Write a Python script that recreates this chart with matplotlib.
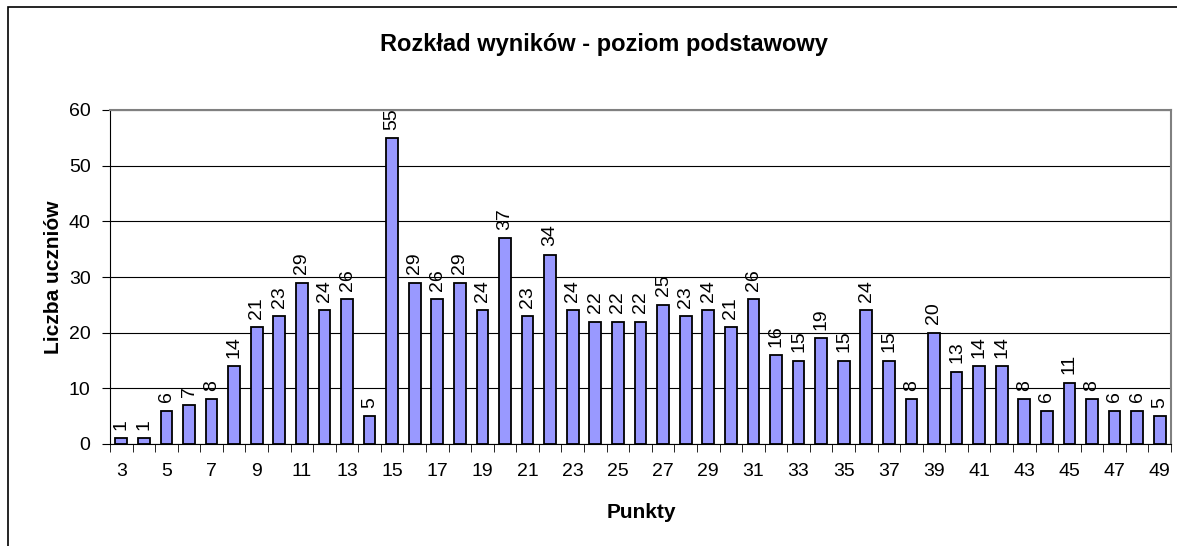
import numpy as np
import matplotlib.pyplot as plt
from matplotlib.patches import Rectangle

plt.rcParams['font.family'] = ['Liberation Sans', 'DejaVu Sans']

punkty = list(range(3, 50))
liczba = [1, 1, 6, 7, 8, 14, 21, 23, 29, 24, 26, 5, 55, 29, 26, 29, 24, 37, 23, 34,
          24, 22, 22, 22, 25, 23, 24, 21, 26, 16, 15, 19, 15, 24, 15, 8, 20, 13, 14,
          14, 8, 6, 11, 8, 6, 6, 5]
tick_labels = [str(p) for p in punkty[::2]]

W, H = 1177, 546
fig = plt.figure(figsize=(W / 100, H / 100), dpi=100)
# ramka wykresu (widoczna tylko z lewej i u gory)
fig.patches.append(Rectangle((8 / W, -0.1), 1.2, 1.1 - 7 / H, transform=fig.transFigure,
                             fill=False, edgecolor='black', linewidth=1.2))
ax = fig.add_axes([110 / W, 1 - 444 / H, (1171 - 110) / W, (444 - 110) / H])

x = np.arange(len(punkty))
ax.bar(x, liczba, width=0.52, color='#9999FF', edgecolor='black', linewidth=1.3, zorder=3)
for xi, v in zip(x, liczba):
    ax.annotate(str(v), (xi, v), xytext=(0, 6), textcoords='offset points',
                rotation=90, ha='center', va='bottom', fontsize=14)

ax.set_xlim(-0.5, len(punkty) - 0.5)
ax.set_ylim(0, 60)
ax.set_yticks(range(0, 61, 10))
ax.yaxis.grid(True, color='black', linewidth=0.8, zorder=0)
ax.set_axisbelow(True)

ax.set_xticks(x[::2])
ax.set_xticklabels(tick_labels)
ax.tick_params(axis='x', length=0, labelsize=14, pad=14)
ax.set_xticks(np.arange(-0.5, len(punkty)), minor=True)
ax.tick_params(axis='x', which='minor', length=6, direction='out', color='black')
ax.tick_params(axis='y', length=6, direction='out', labelsize=14, pad=8)

for s in ['top', 'right']:
    ax.spines[s].set_color('#808080')
    ax.spines[s].set_linewidth(1.5)

fig.text(604 / W, 1 - 45 / H, 'Rozkład wyników - poziom podstawowy',
         fontsize=17, fontweight='bold', ha='center', va='center')
fig.text(641 / W, 1 - 513 / H, 'Punkty', fontsize=15, fontweight='bold', ha='center', va='center')
fig.text(54 / W, 1 - 277 / H, 'Liczba uczniów', fontsize=15, fontweight='bold',
         rotation=90, ha='center', va='center')

fig.savefig('out.png', dpi=100)
